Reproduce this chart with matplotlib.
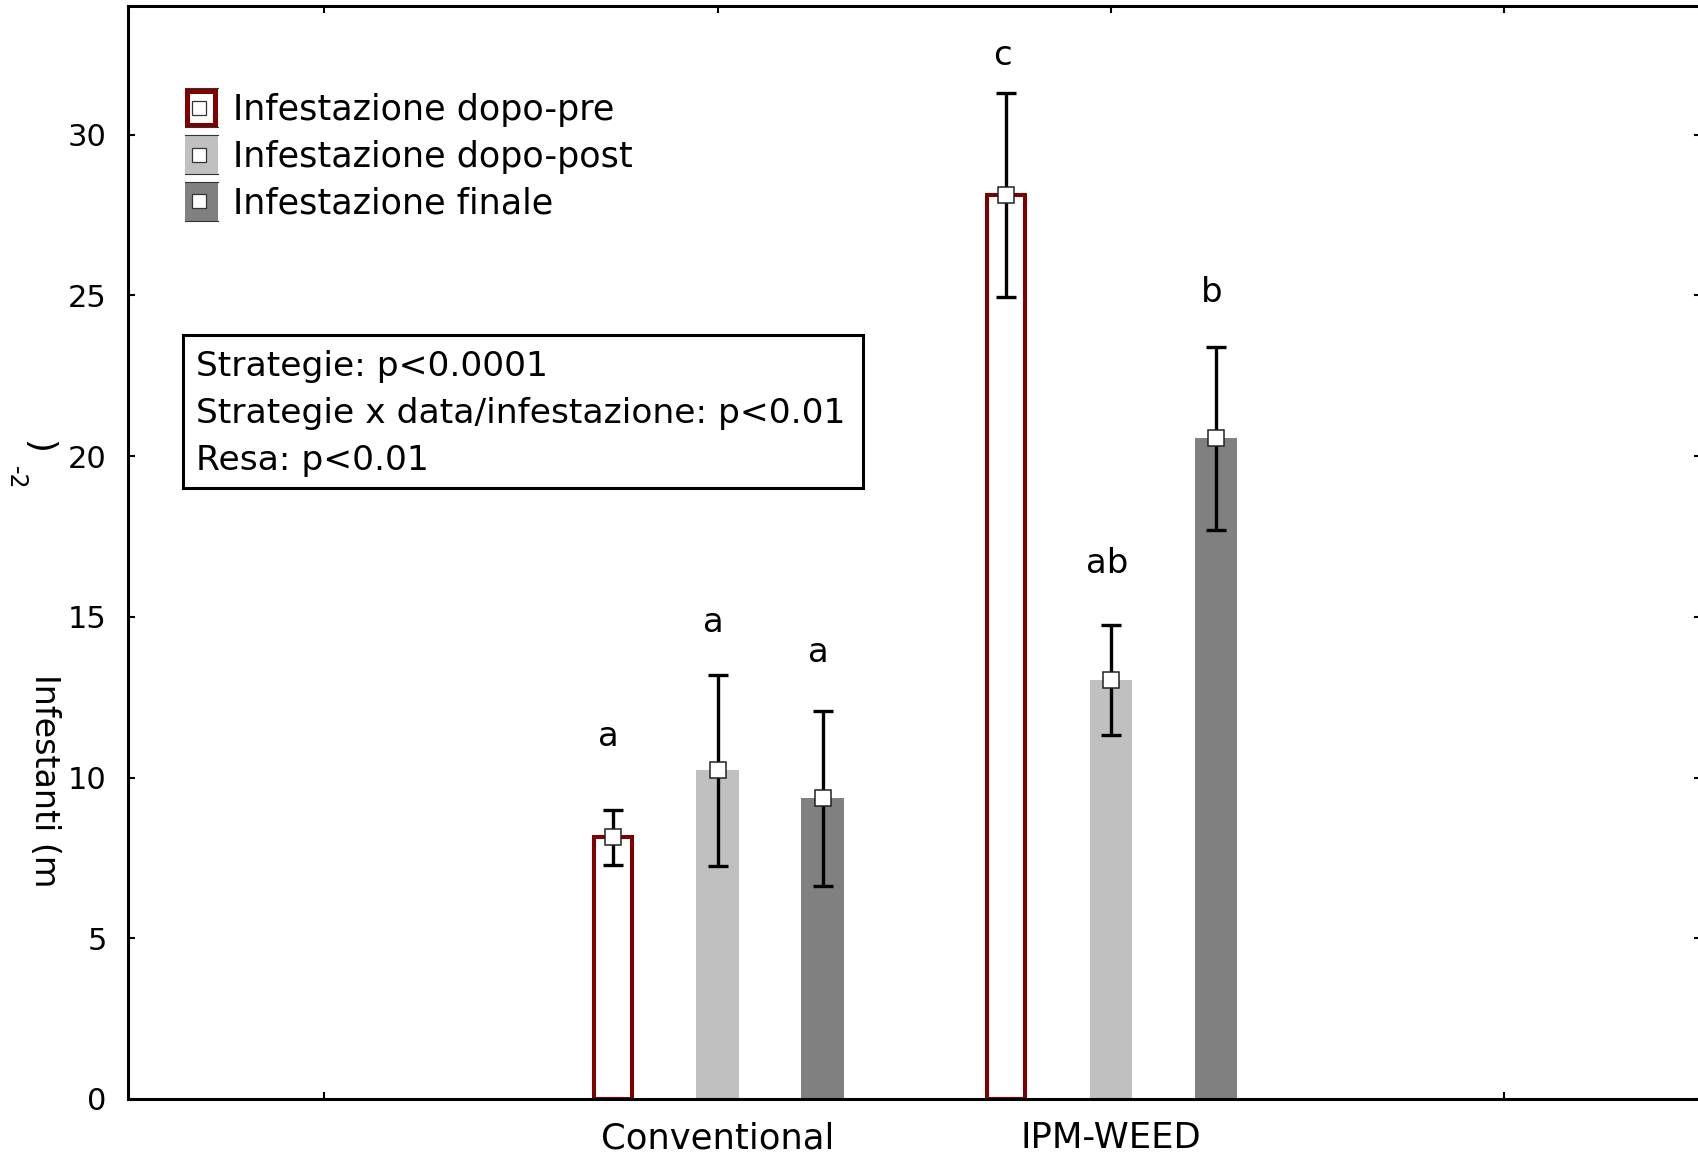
import matplotlib
matplotlib.use('Agg')
import matplotlib.pyplot as plt
from matplotlib.patches import Rectangle
from matplotlib.lines import Line2D
import numpy as np

# ---------------- data ----------------
categories = ['Conventional', 'IPM-WEED']
series_names = ['Infestazione dopo-pre', 'Infestazione dopo-post', 'Infestazione finale']

pre_mean = [8.14, 28.13]
pre_err = [0.85, 3.17]
post_mean = [10.23, 13.03]
post_err = [2.97, 1.72]
final_mean = [9.35, 20.55]
final_err = [2.72, 2.85]

pre_letters = ['a', 'c']
post_letters = ['a', 'ab']
final_letters = ['a', 'b']

stats_lines = ['Strategie: p<0.0001',
               'Strategie x data/infestazione: p<0.01',
               'Resa: p<0.01']

y_ticks = [0, 5, 10, 15, 20, 25, 30]

# ---------------- layout ----------------
W, H = 1699, 1154
fig = plt.figure(figsize=(W / 100, H / 100), dpi=100)
plt.rcParams['font.family'] = ['DejaVu Sans']

ax_left, ax_right, ax_top, ax_bottom = 127.7, 1701, 6, 1099
ax = fig.add_axes([ax_left / W, (H - ax_bottom) / H,
                   (ax_right - ax_left) / W, (ax_bottom - ax_top) / H])
ax.set_xlim(-0.5, 3.5)
ax.set_ylim(0, 34)

x = np.arange(1, len(categories) + 1)
off = 0.267
red = '#800000'
light = '#C0C0C0'
dark = '#808080'

ax.bar(x - off, pre_mean, width=0.0966, facecolor='white', edgecolor=red,
       linewidth=2.9, zorder=2)
ax.bar(x, post_mean, width=0.109, color=light, linewidth=0, zorder=2)
ax.bar(x + off, final_mean, width=0.109, color=dark, linewidth=0, zorder=2)

for xs, m, e in [(x - off, pre_mean, pre_err), (x, post_mean, post_err),
                 (x + off, final_mean, final_err)]:
    ax.errorbar(xs, m, yerr=e, fmt='none', ecolor='black', elinewidth=2.4,
                capsize=7.4, capthick=2.4, zorder=3)
    ax.plot(xs, m, linestyle='none', marker='s', markersize=11.3,
            markerfacecolor='white', markeredgecolor='#222222',
            markeredgewidth=1.1, zorder=4)

# significance letters (baseline positions in data units)
letter_y = {'pre': [10.98, 32.18], 'post': [14.54, 16.36], 'final': [13.60, 24.80]}
for xs, letters, key in [(x - off, pre_letters, 'pre'), (x, post_letters, 'post'),
                         (x + off, final_letters, 'final')]:
    for xi, lt, yy in zip(xs, letters, letter_y[key]):
        ax.text(xi - 0.01, yy, lt, ha='center', va='baseline', fontsize=24.5, zorder=5)

# axes styling
for s in ['left', 'bottom', 'top']:
    ax.spines[s].set_linewidth(2.2)
ax.spines['right'].set_visible(False)
ax.set_xticks([0, 1, 2, 3])
ax.set_xticklabels([''] + categories + [''], fontsize=25.5)
ax.set_yticks(y_ticks)
ax.set_yticklabels([str(t) for t in y_ticks], fontsize=22)
ax.tick_params(axis='both', direction='in', length=5, width=1.5,
               top=True, right=True)
ax.tick_params(axis='x', pad=16)
ax.tick_params(axis='y', pad=15)

# helpers in pixel coords (from top-left)
def fx(px):
    return px / W

def fy(py):
    return 1 - py / H

tf = fig.transFigure

# ---------------- legend ----------------
leg_x0, leg_x1 = 185, 217.7
rows = [(88.3, 127.3), (135, 174), (181.7, 220.7)]
fills = ['white', light, dark]
for i, ((y0, y1), fc) in enumerate(zip(rows, fills)):
    if i == 0:
        lw_px = 5
        r = Rectangle((fx(leg_x0 + lw_px / 2), fy(y1 - lw_px / 2)),
                      fx(leg_x1 - leg_x0 - lw_px), (y1 - y0 - lw_px) / H,
                      transform=tf, facecolor='white', edgecolor=red,
                      linewidth=lw_px * 0.72, zorder=6)
    else:
        r = Rectangle((fx(leg_x0), fy(y1)), fx(leg_x1 - leg_x0), (y1 - y0) / H,
                      transform=tf, facecolor=fc, edgecolor='none', zorder=6)
    ax.add_patch(r)
    for yy in (y0, y1):
        ax.add_line(Line2D([fx(leg_x0), fx(leg_x1)], [fy(yy), fy(yy)], transform=tf,
                           color='#333333', linewidth=0.8, zorder=7))
    yc = (y0 + y1) / 2
    ax.add_line(Line2D([fx(199.5)], [fy(yc)], transform=tf, linestyle='none',
                       marker='s', markersize=9.4, markerfacecolor='white',
                       markeredgecolor='#333333', markeredgewidth=0.9, zorder=8))

leg_baselines = [120.4, 167.4, 213.9]
for name, yb in zip(series_names, leg_baselines):
    fig.text(fx(233), fy(yb), name, ha='left', va='baseline', fontsize=25.2)

# ---------------- stats box ----------------
bx0, by0, bx1, by1 = 183.3, 335, 862.5, 487.6
box = Rectangle((fx(bx0), fy(by1)), fx(bx1 - bx0), (by1 - by0) / H, transform=tf,
                facecolor='white', edgecolor='black', linewidth=2.2, zorder=6)
ax.add_patch(box)
for line, yb in zip(stats_lines, [376, 423, 470]):
    fig.text(fx(196), fy(yb), line, ha='left', va='baseline', fontsize=24.8, zorder=7)

# ---------------- y label (as drawn in the original) ----------------
fig.text(fx(44.5), fy(781), 'Infestanti (m', rotation=-90, ha='center', va='center',
         fontsize=24)
fig.text(fx(38), fy(447), ')', rotation=-90, ha='center', va='center', fontsize=26)
fig.text(fx(16), fy(478), '-2', rotation=-90, ha='center', va='center', fontsize=17)

fig.savefig('out.png', dpi=100)
